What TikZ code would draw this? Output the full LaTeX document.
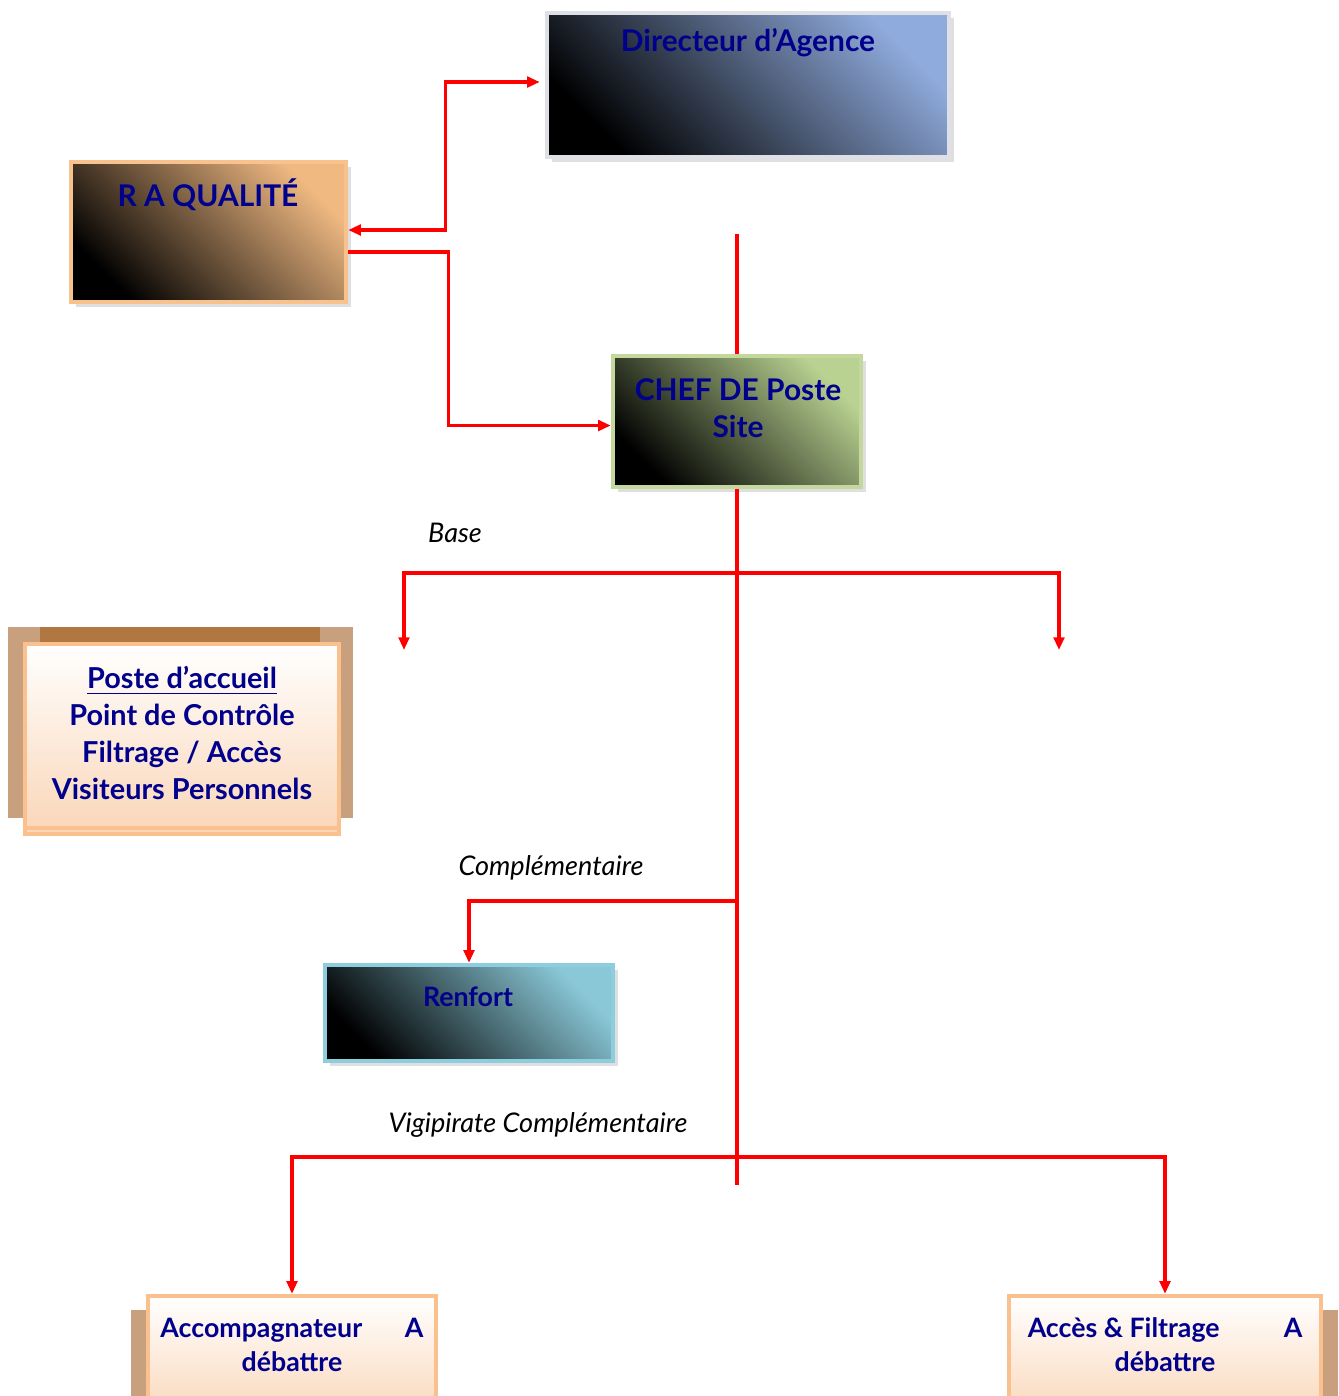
\documentclass[tikz,border=0pt]{standalone}
\usepackage{fontspec}
\setmainfont{Lato}
\usepackage{xcolor}
\usetikzlibrary{arrows.meta,positioning,shadows}

\definecolor{navytext}{RGB}{0,0,140}
\definecolor{linered}{RGB}{255,0,0}
\definecolor{dirblue}{RGB}{143,170,220}
\definecolor{dirline}{RGB}{222,224,230}
\definecolor{raorange}{RGB}{240,185,130}
\definecolor{raline}{RGB}{248,194,142}
\definecolor{chefgreen}{RGB}{185,210,145}
\definecolor{chefline}{RGB}{196,216,158}
\definecolor{renfortblue}{RGB}{138,200,215}
\definecolor{renfortline}{RGB}{140,205,222}
\definecolor{peachfill}{RGB}{250,214,184}
\definecolor{peachline}{RGB}{250,192,142}
\definecolor{backtan}{RGB}{201,160,126}
\definecolor{backbrown}{RGB}{176,120,64}

\tikzset{
  darkbox/.style 2 args={draw=#2, line width=1.2pt, inner sep=0pt,
    shading=axis, top color=#1, bottom color=black, middle color=#1!50!black, shading angle=-45,
    drop shadow={opacity=0.25, shadow xshift=0.05cm, shadow yshift=-0.05cm}},
  peachbox/.style={draw=peachline, line width=1.2pt, inner sep=0pt,
    top color=white, bottom color=peachfill},
  boxtext/.style={text=navytext, align=center,
    font=\bfseries\fontsize{8.5}{10.6}\selectfont},
  postetext/.style={boxtext, font=\bfseries\fontsize{8.2}{10.6}\selectfont},
  smalltext/.style={boxtext, font=\bfseries\fontsize{7.6}{9.6}\selectfont},
  branchlabel/.style={font=\itshape\fontsize{7.7}{9}\selectfont},
  flow/.style={draw=linered, line width=0.9pt},
}

\begin{document}
\begin{tikzpicture}[x=0.01cm, y=-0.01cm, >={Triangle[width=3pt,length=3.6pt]}]
    \useasboundingbox (0,0) rectangle (1339,1396);
    \clip (0,0) rectangle (1339,1396);

    % head of the chart
    \node[darkbox={dirblue}{dirline}, minimum width=4.02cm, minimum height=1.44cm] (dir) at (748,85) {};
    \node[boxtext] (dirtext) at (748,43) {Directeur d’Agence};

    \node[darkbox={raorange}{raline}, minimum width=2.75cm, minimum height=1.4cm] (ra) at (208.5,232) {};
    \node[boxtext] (ratext) at (208,195) {R A QUALITÉ};

    \node[darkbox={chefgreen}{chefline}, minimum width=2.48cm, minimum height=1.31cm] (chef) at (737,421.5) {};
    \node[boxtext] (cheftext) at (738,408) {CHEF DE Poste\\Site};

    % base post
    \fill[backtan] (8,627) rectangle (353,818);
    \fill[backbrown] (40,627) rectangle (320,645);
    \node[peachbox, minimum width=3.14cm, minimum height=1.9cm] (poste) at (182,739) {};
    \draw[peachline, line width=1pt] ([yshift=0.08cm]poste.south west) -- ([yshift=0.08cm]poste.south east);
    \node[postetext] (postetext) at (182,733) {\underline{Poste d’accueil}\\Point de Contrôle\\Filtrage / Accès\\Visiteurs Personnels};

    \node[darkbox={renfortblue}{renfortline}, minimum width=2.88cm, minimum height=0.96cm] (renfort) at (469,1013) {};
    \node[smalltext] (renforttext) at (468,997) {Renfort};

    % vigipirate posts
    \fill[backtan] (131,1310) rectangle (150,1420);
    \node[peachbox, minimum width=2.88cm, minimum height=1.24cm] (accomp) at (292,1358) {};
    \node[smalltext] (accomptext) at (292,1345) {Accompagnateur\hspace{1.6em}A\\débattre};

    \fill[backtan] (1318,1310) rectangle (1338,1420);
    \node[peachbox, minimum width=3.12cm, minimum height=1.24cm] (filtrage) at (1165,1358) {};
    \node[smalltext] (filtragetext) at (1165,1345) {Accès \& Filtrage\hspace{2.4em}A\\débattre};

    % links
    \coordinate (dirfoot) at (737,234);
    \coordinate (trunkend) at (737,1185);
    \coordinate (jbase) at (737,573);
    \coordinate (baseleft) at (404,650);
    \coordinate (baseright) at (1059,650);
    \coordinate (jcomp) at (737,901);
    \coordinate (jvigi) at (737,1157);

    \draw[flow, <->] ([yshift=0.02cm]ra.east) -- ++(97,0) |- ([xshift=-0.05cm,yshift=0.03cm]dir.west);
    \draw[flow, ->] ([yshift=-0.2cm]ra.east) -- ++(100,0) |- ([yshift=-0.04cm]chef.west);
    \draw[flow] (dirfoot) -- (chef.north);
    \draw[flow] (chef.south) -- (trunkend);
    \draw[flow, ->] (jbase) -| (baseleft);
    \draw[flow, ->] (jbase) -| (baseright);
    \draw[flow, ->] (jcomp) -| (renfort.north);
    \draw[flow, ->] (jvigi) -| (accomp.north);
    \draw[flow, ->] (jvigi) -| (filtrage.north);

    \node[branchlabel] (baselabel) at (455,533) {Base};
    \node[branchlabel] (complabel) at (551,868) {Complémentaire};
    \node[branchlabel] (vigilabel) at (538,1125) {Vigipirate Complémentaire};
\end{tikzpicture}
\end{document}
